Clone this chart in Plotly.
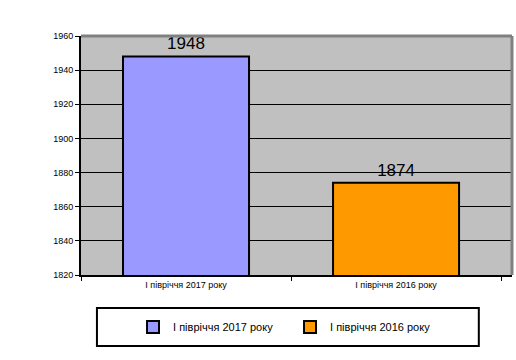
import plotly.graph_objects as go

categories = ["І півріччя 2017 року", "І півріччя 2016 року"]
values = [1948, 1874]
colors = ["#9999FF", "#FF9900"]
y_ticks = [1820, 1840, 1860, 1880, 1900, 1920, 1940, 1960]

fig = go.Figure()
for cat, val, col in zip(categories, values, colors):
    fig.add_trace(go.Bar(
        x=[cat], y=[val], name=cat,
        marker=dict(color=col, line=dict(color="black", width=2)),
        width=0.6,
        text=[str(val)], textposition="outside",
        textfont=dict(size=17, color="black", family="Liberation Sans"),
        cliponaxis=False,
    ))

fig.update_layout(
    width=516, height=360,
    margin=dict(l=81, r=4, t=36, b=85),
    paper_bgcolor="white", plot_bgcolor="#C0C0C0",
    barmode="overlay",
    font=dict(family="Liberation Sans", size=9, color="black"),
    showlegend=True,
    legend=dict(orientation="h", x=0.485, xanchor="center", y=-0.218, yanchor="middle",
                font=dict(size=11), bgcolor="rgba(0,0,0,0)", itemwidth=30,
                entrywidth=112, entrywidthmode="pixels"),
    xaxis=dict(range=[-0.5, 1.552], showgrid=False, showline=True, linecolor="black",
               linewidth=2, ticks="outside", tickson="boundaries", ticklen=4,
               tickcolor="black", tickfont=dict(size=9), automargin=False),
    yaxis=dict(range=[1820, 1960], tickvals=y_ticks, showgrid=True, gridcolor="black",
               gridwidth=1, showline=True, linecolor="black", linewidth=2,
               ticks="outside", ticklen=4, tickcolor="black", zeroline=False,
               tickfont=dict(size=9), automargin=False),
    shapes=[
        dict(type="line", xref="paper", yref="paper", x0=0, x1=1, y0=1, y1=1,
             line=dict(color="#808080", width=3)),
        dict(type="line", xref="paper", yref="paper", x0=1, x1=1, y0=0, y1=1,
             line=dict(color="#808080", width=3)),
        dict(type="rect", xref="paper", yref="paper", x0=0.037, x1=0.923,
             y0=-0.297, y1=-0.138, line=dict(color="black", width=2)),
    ],
)

fig.write_html("out.html", config={"displayModeBar": False},
               post_script="document.body.style.margin='0px';")
